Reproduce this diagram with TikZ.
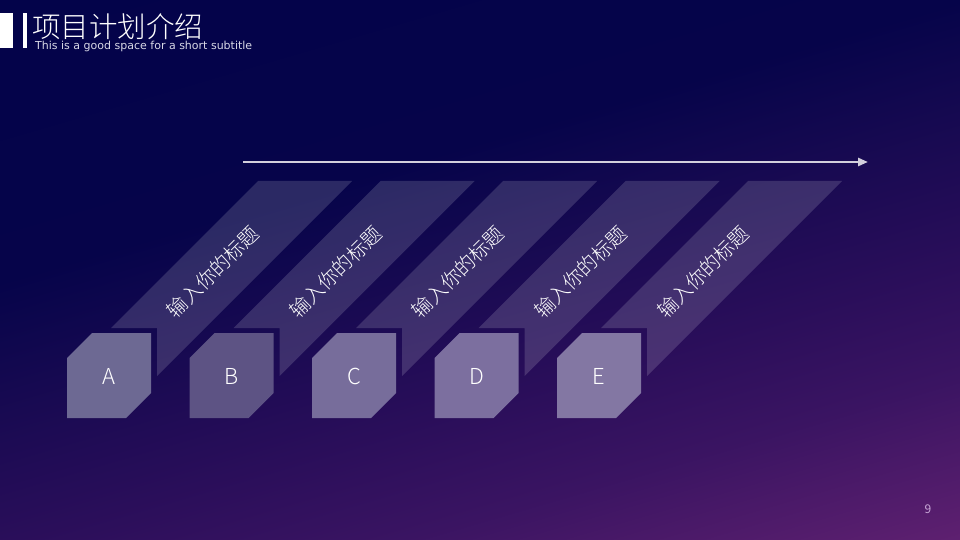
\documentclass[tikz,border=0pt]{standalone}
\usepackage{fontspec}
\usetikzlibrary{arrows.meta}
\setmainfont{Noto Sans CJK SC}
\IfFontExistsTF{Noto Sans CJK SC Light}{\newfontfamily\lightfont{Noto Sans CJK SC Light}}{\newfontfamily\lightfont{Noto Sans CJK SC}}
\newfontfamily\subfont{DejaVu Sans}
\definecolor{bgA}{HTML}{03034A}
\definecolor{bgB}{HTML}{06044A}
\definecolor{bgC}{HTML}{190A52}
\definecolor{bgD}{HTML}{2A0E5A}
\definecolor{bgE}{HTML}{3A1462}
\definecolor{bgF}{HTML}{5E2070}
\definecolor{boxA}{HTML}{6D6993}
\definecolor{boxB}{HTML}{5D5384}
\definecolor{boxC}{HTML}{776D9B}
\definecolor{boxD}{HTML}{7C6F9F}
\definecolor{boxE}{HTML}{8377A3}
\definecolor{arrowc}{HTML}{D2CFDC}
\definecolor{pagec}{HTML}{C9A8D8}
\definecolor{subc}{HTML}{D8D8E6}
\pgfdeclareverticalshading{bgshade}{100bp}{color(0bp)=(bgF); color(25bp)=(bgF); color(35bp)=(bgE); color(41.95bp)=(bgD); color(49.6bp)=(bgC); color(57.85bp)=(bgB); color(75bp)=(bgA); color(100bp)=(bgA)}
\tikzset{
  bandfill/.style={fill=white, fill opacity=0.15},
  bandtxt/.style={text=white, font=\lightfont\fontsize{20}{20}\selectfont, rotate=45, inner sep=0pt},
  lettxt/.style={text=white, font=\lightfont\fontsize{22}{22}\selectfont, inner sep=0pt},
}
\begin{document}
\begin{tikzpicture}[x=1pt,y=-1pt]
\useasboundingbox (0,0) rectangle (960,540);
\begin{scope}
  \clip (0,0) rectangle (960,540);
  \begin{scope}[transform canvas={rotate around={16.3:(480,270)}}]
    \shade[shading=bgshade] (-57,-124) rectangle (1017,664);
  \end{scope}
\end{scope}
% title bars
\fill[white] (0,13) rectangle (13,48);
\fill[white] (23,13) rectangle (27,48);
\node[anchor=west, inner sep=0pt, text=white, font=\lightfont\fontsize{28.5}{28.5}\selectfont] (title) at (32,27) {项目计划介绍};
\node[anchor=west, inner sep=0pt, text=subc, font=\subfont\fontsize{11}{11}\selectfont] (sub) at (35,46) {This is a good space for a short subtitle};
% arrow
\coordinate (as) at (243,162);
\coordinate (ae) at (868,162);
\draw[arrowc, line width=2.6pt, -{Triangle[length=10pt,width=8pt]}] (as) -- (ae);
% bands and boxes
\foreach \i/\L/\col in {0/A/boxA,1/B/boxB,2/C/boxC,3/D/boxD,4/E/boxE}{
  \begin{scope}[xshift=\i*122.5pt]
    \fill[bandfill] (258,181) -- (352,181) -- (157,376) -- (157,328) -- (111,328) -- cycle;
    \fill[\col] (67,358) -- (92,333) -- (151,333) -- (151,393) -- (126,418) -- (67,418) -- cycle;
    \node[bandtxt] (t\L) at (213,272) {输入你的标题};
    \node[lettxt] (l\L) at (109,376) {\L};
  \end{scope}
}
\node[text=pagec, font=\fontsize{12}{12}\selectfont, inner sep=0pt] (page) at (928,509) {9};
\end{tikzpicture}
\end{document}
